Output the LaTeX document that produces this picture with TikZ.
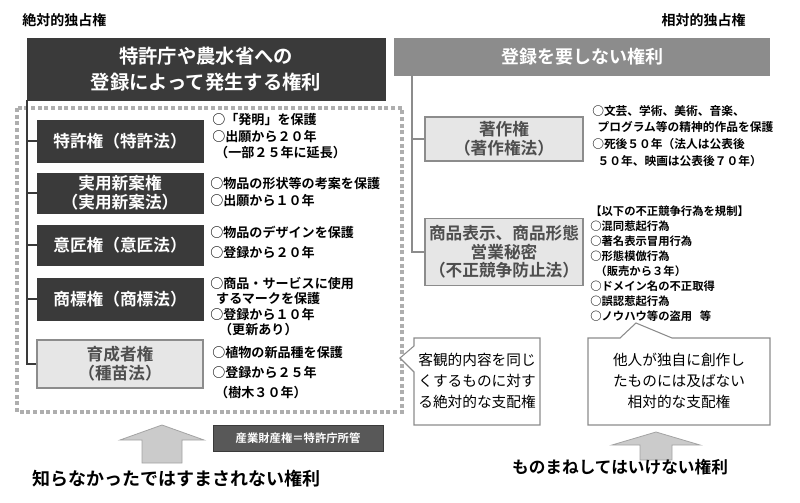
\documentclass[tikz,border=0pt]{standalone}
\usepackage{fontspec}
\setmainfont{Noto Sans CJK JP}[BoldFont={* Bold}]
\usetikzlibrary{positioning}
\definecolor{dk}{HTML}{3A3A3A}
\definecolor{lg}{HTML}{E6E6E6}
\definecolor{mg}{HTML}{8C8C8C}
\tikzset{
  darkbox/.style={fill=dk,draw=dk,text=white,font=\bfseries\fontsize{12.5}{14}\selectfont,align=center,inner sep=0pt},
  lightbox/.style={fill=lg,draw=mg,line width=1pt,text=dk!90,font=\bfseries\fontsize{12.5}{14}\selectfont,align=center,inner sep=0pt},
  desc/.style={anchor=north west,font=\bfseries\fontsize{9.8}{12.5}\selectfont,align=left,inner sep=0pt},
  ttl/.style={font=\bfseries\fontsize{10.5}{12}\selectfont,inner sep=0pt},
  callout/.style={draw=mg,line width=0.8pt,fill=white},
  bigarrow/.style={fill=lg!70!mg,draw=mg!80,line width=0.6pt},
}
\begin{document}
\begin{tikzpicture}[x=0.75pt,y=-0.75pt]
\useasboundingbox (0,0) rectangle (800,503);
\node[ttl,anchor=west] (t1) at (22,20) {絶対的独占権};
\node[ttl,anchor=east] (t2) at (746,20) {相対的独占権};
% left header
\node[darkbox,minimum width=358*0.75pt,minimum height=62*0.75pt,font=\bfseries\fontsize{14.5}{19}\selectfont] (lh) at (206,69) {特許庁や農水省への\\登録によって発生する権利};
\draw[mg!70,line width=2.5pt,dash pattern=on 3pt off 2pt] (17,108) rectangle (402,412);
% spine
\coordinate (sp1) at (27,100);
\coordinate (sp2) at (27,364);
\draw[dk,line width=2pt] (sp1) -- (sp2);
\node[darkbox,minimum width=166*0.75pt,minimum height=42*0.75pt] (b1) at (120,141) {特許権（特許法）};
\node[darkbox,minimum width=166*0.75pt,minimum height=40*0.75pt] (b2) at (120,193) {実用新案権\\（実用新案法）};
\node[darkbox,minimum width=166*0.75pt,minimum height=40*0.75pt] (b3) at (120,245) {意匠権（意匠法）};
\node[darkbox,minimum width=166*0.75pt,minimum height=42*0.75pt] (b4) at (120,299) {商標権（商標法）};
\node[lightbox,minimum width=166*0.75pt,minimum height=48*0.75pt] (b5) at (120,364) {育成者権\\（種苗法）};
\foreach \b in {b1,b2,b3,b4,b5} \draw[dk,line width=2pt] (\b.west) -- ++(-10,0);
\node[desc] (d1) at (212,113) {○「発明」を保護\\○出願から２０年\\\ （一部２５年に延長）};
\node[desc] (d2) at (210,177) {○物品の形状等の考案を保護\\○出願から１０年};
\node[desc,font=\bfseries\fontsize{9.8}{15}\selectfont] (d3) at (210,226) {○物品のデザインを保護\\○登録から２０年};
\node[desc,font=\bfseries\fontsize{9.8}{11.5}\selectfont] (d4) at (210,277) {○商品・サービスに使用\\\ \ するマークを保護\\○登録から１０年\\\ \ \ （更新あり）};
\node[desc,font=\bfseries\fontsize{9.8}{15}\selectfont] (d5) at (212,346) {○植物の新品種を保護\\○登録から２５年\\\ （樹木３０年）};
% right header
\node[darkbox,fill=mg,draw=mg,minimum width=375*0.75pt,minimum height=37*0.75pt,font=\bfseries\fontsize{13.5}{15}\selectfont] (rh) at (582,57) {登録を要しない権利};
\coordinate (rs1) at (412,75);
\coordinate (rs2) at (412,252);
\draw[mg,line width=2pt] (rs1) -- (rs2);
\node[lightbox,minimum width=158*0.75pt,minimum height=44*0.75pt] (c1) at (504,139) {著作権\\（著作権法）};
\node[lightbox,minimum width=158*0.75pt,minimum height=67*0.75pt] (c2) at (504,252) {商品表示、商品形態\\営業秘密\\（不正競争防止法）};
\foreach \b in {c1,c2} \draw[mg,line width=2pt] (\b.west) -- ++(-13,0);
\node[desc,font=\bfseries\fontsize{8.8}{12.5}\selectfont] (e1) at (592,105) {○文芸、学術、美術、音楽、\\\ \ プログラム等の精神的作品を保護\\○死後５０年（法人は公表後\\\ \ ５０年、映画は公表後７０年）};
\node[desc,font=\bfseries\fontsize{8.5}{11.2}\selectfont] (e2) at (590,206) {【以下の不正競争行為を規制】\\○混同惹起行為\\○著名表示冒用行為\\○形態模倣行為\\\ \ （販売から３年）\\○ドメイン名の不正取得\\○誤認惹起行為\\○ノウハウ等の盗用\ \ \ 等};
% callouts
\coordinate (p1) at (400,358);
\draw[callout] (414,338) -- (540,338) -- (540,425) -- (414,425) -- (414,372) -- (p1) -- (414,346) -- cycle;
\node[font=\fontsize{11}{15.5}\selectfont,align=left,inner sep=0pt] (k1) at (477,381) {客観的内容を同じ\\くするものに対す\\る絶対的な支配権};
\coordinate (p2) at (636,323);
\draw[callout] (588,338) -- (620,338) -- (p2) -- (672,338) -- (770,338) -- (770,425) -- (588,425) -- cycle;
\node[font=\fontsize{11}{15.5}\selectfont,align=center,inner sep=0pt] (k2) at (679,381) {他人が独自に創作し\\たものには及ばない\\相対的な支配権};
% arrows
\draw[bigarrow] (142,463) -- (142,440) -- (120,440) -- (162,425) -- (204,440) -- (182,440) -- (182,463) -- cycle;
\draw[bigarrow] (640,460) -- (640,445) -- (612,445) -- (656,432) -- (700,445) -- (672,445) -- (672,460) -- cycle;
\node[darkbox,fill=dk!85,minimum width=170*0.75pt,minimum height=26*0.75pt,font=\bfseries\fontsize{8.5}{10}\selectfont] (ip) at (298,438) {産業財産権＝特許庁所管};
\node[font=\bfseries\fontsize{13.5}{15}\selectfont,inner sep=0pt] (f1) at (176,479) {知らなかったではすまされない権利};
\node[font=\bfseries\fontsize{12.5}{14}\selectfont,inner sep=0pt] (f2) at (620,467) {ものまねしてはいけない権利};
\end{tikzpicture}
\end{document}
